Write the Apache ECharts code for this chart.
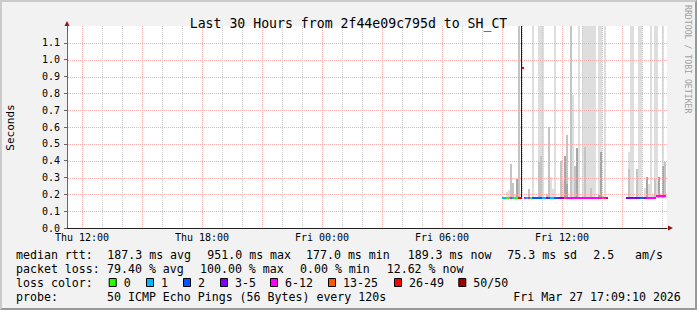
<!DOCTYPE html>
<html>
<head>
<meta charset="utf-8">
<script src="https://cdn.jsdelivr.net/npm/echarts@6/dist/echarts.min.js"></script>
<style>
html,body{margin:0;padding:0;background:#f2f2f2;overflow:hidden;}
#chart{position:absolute;left:0;top:0;width:697px;height:310px;}
#frame{position:absolute;left:0;top:0;width:697px;height:310px;box-sizing:border-box;
  border-top:2px solid #cbcbcb;border-left:2px solid #cbcbcb;border-right:2px solid #999;border-bottom:2px solid #999;pointer-events:none;}
</style>
</head>
<body>
<div id="chart"></div>
<div id="frame"></div>
<script>
// ---------------- DATA ----------------
// time in hours since Thu 00:00
const timeWindow = [11.25, 41.25];
const yRange = [0, 1.2];
const yTicks = [0.0, 0.1, 0.2, 0.3, 0.4, 0.5, 0.6, 0.7, 0.8, 0.9, 1.0, 1.1];
const xLabelHours = [12, 18, 24, 30, 36];
const xLabelTexts = ['Thu 12:00', 'Thu 18:00', 'Fri 00:00', 'Fri 06:00', 'Fri 12:00'];
const minorGridHours = [13,14,16,17,19,20,22,23,25,26,28,29,31,32,34,35,37,38,40,41];
const majorGridHours = [12,15,18,21,24,27,30,33,36,39];
const slotHours = 0.1;
const minRtt = 0.177;

const titleText = 'Last 30 Hours from 2f44e09c795d to SH_CT';
const yAxisTitle = 'Seconds';
const sideText = 'RRDTOOL / TOBI OETIKER';

// median rtt per slot (slot start hour, seconds, loss bucket index)
const medianHours = [33.0,33.1,33.2,33.3,33.4,33.5,33.6,33.7,33.8,33.9,34.0,34.1,34.2,34.3,34.4,34.5,34.6,34.7,34.8,34.9,
  35.0,35.1,35.2,35.3,35.4,35.5,35.6,35.7,35.8,35.9,36.0,36.1,36.2,36.3,36.4,36.5,36.6,36.7,36.8,36.9,
  37.0,37.1,37.2,37.3,37.4,37.5,37.6,37.7,37.8,37.9,38.0,38.1,38.2,
  39.2,39.3,39.4,39.5,39.6,39.7,39.8,39.9,40.0,40.1,40.2,40.3,40.4,40.5,40.6,40.7,40.8,40.9,41.0,41.1];
const medianValues = [0.178,0.178,0.178,0.178,0.178,0.178,0.178,0.178,0.178,0.178,0.951,0.178,0.178,0.178,0.177,0.177,0.177,0.177,0.177,0.177,
  0.177,0.177,0.178,0.177,0.177,0.177,0.178,0.178,0.179,0.179,0.179,0.179,0.179,0.179,0.179,0.179,0.179,0.179,0.179,0.179,
  0.179,0.179,0.179,0.179,0.179,0.179,0.179,0.179,0.179,0.179,0.179,0.179,0.179,
  0.178,0.178,0.178,0.178,0.178,0.178,0.178,0.178,0.178,0.178,0.178,0.178,0.178,0.178,0.178,0.188,0.188,0.188,0.188,0.188];
const medianLoss = [1,1,0,0,4,1,0,0,6,6,6,4,1,4,0,2,2,2,2,2,
  1,1,3,2,1,1,2,2,3,3,3,5,4,4,4,4,4,4,4,4,
  4,4,4,4,4,4,4,4,4,4,5,4,6,
  3,3,3,3,3,3,3,2,2,3,4,4,4,4,4,4,4,4,4,4];

// smoke bands: [slot start hour, top in seconds]
const smokeLight = [[33.2,0.216],[33.3,0.226],[33.6,0.20],[34.5,1.2],[34.8,1.2],[34.9,1.2],[35.0,1.2],
  [35.3,0.20],[35.4,0.305],[35.5,0.23],[35.6,1.2],[36.0,0.28],[36.5,0.79],[36.8,1.2],[37.0,1.2],[37.1,1.2],
  [37.2,1.2],[37.3,1.2],[37.4,1.2],[37.5,1.2],[37.6,1.2],[37.8,1.2],[37.9,1.2],[38.1,1.2],
  [39.3,0.454],[39.4,1.2],[39.5,1.2],[39.8,1.2],[39.9,1.2],[40.1,0.24],[40.3,0.26],[40.4,1.2],[40.5,0.20],
  [40.6,1.2],[40.7,1.2],[41.0,1.2]];
const smokeMid = [[33.4,0.38],[33.5,0.266],[33.8,1.2],[34.3,0.232],[34.8,0.395],[34.9,0.43],[35.2,0.20],[35.3,0.60],
  [35.9,0.40],[36.2,0.553],[36.4,1.2],[36.6,0.37],[36.7,0.37],[37.1,0.48],[37.4,0.24],[38.0,0.19],
  [39.3,0.35],[39.7,0.35],[40.6,0.29],[41.1,0.395]];
const smokeDark = [[33.7,0.29],[36.1,0.43],[36.2,0.26],[36.7,0.474],[37.8,0.195],[37.9,0.45],
  [40.2,0.305],[40.8,0.305],[41.0,0.37]];
const spikeColumn = [[33.98,1.2]];

// legend / statistics text
const statLabels = ['median rtt:', 'packet loss:', 'loss color:', 'probe:'];
const rttStats = ['187.3 ms avg', '951.0 ms max', '177.0 ms min', '189.3 ms now', '75.3 ms sd', '2.5', 'am/s'];
const lossStats = ['79.40 % avg', '100.00 % max', '0.00 % min', '12.62 % now'];
const lossBuckets = ['0', '1', '2', '3-5', '6-12', '13-25', '26-49', '50/50'];
const probeText = '50 ICMP Echo Pings (56 Bytes) every 120s';
const dateText = 'Fri Mar 27 17:09:10 2026';

// ---------------- STYLE / LAYOUT ----------------
const FONT = 'DejaVu Sans Mono';
const lossColors = ['#26ff00','#00b8ff','#0059ff','#7e00ff','#ff00ff','#ff5500','#ff0000','#a10000'];
const smokeShades = ['#dedede','#c4c4c4','#a6a6a6'];
const SPIKE_COLOR = '#1a1a1a';
const ARROW = '#8f1515';
const MINOR_COLOR = '#c8c8c8';
const MAJOR_COLOR = '#f6aaaa';
const rowY = [254.5, 268.5, 282.5, 296.5];
const labelX = 16;
const rttX = [107.3, 207.3, 306, 407.7, 507.3, 593.3, 635];
const lossX = [107, 200, 300, 386.7];
const boxX = [108.7, 146, 183, 220, 270, 328, 394, 458.3];
const probeX = 107, dateX = 513.3;

const smokeData = [];
[smokeLight, smokeMid, smokeDark].forEach((arr, lvl) => {
  arr.forEach(d => smokeData.push([d[0], d[1], lvl]));
});
const medianData = medianHours.map((h, i) => [h, medianValues[i], medianLoss[i]]);
const minorData = minorGridHours.map(h => [h, yRange[0]]);
const majorData = majorGridHours.map(h => [h, yRange[0]]);
const hGridData = yTicks.filter(v => v > 0).map(v => [timeWindow[0], v]);

const chart = echarts.init(document.getElementById('chart'), null, {renderer: 'svg', width: 697, height: 310});

function smokeItem(params, api) {
  const t = api.value(0), top = api.value(1), lvl = api.value(2);
  const p0 = api.coord([t, minRtt]);
  const p1 = api.coord([t + slotHours, top]);
  const x = Math.round(p0[0]);
  const w = Math.round(p1[0]) - x;
  const y = Math.round(p1[1]);
  const h = Math.round(p0[1]) - y;
  return {type: 'rect', shape: {x: x, y: y, width: w, height: h}, style: {fill: smokeShades[lvl]}};
}
function spikeItem(params, api) {
  const t = api.value(0), top = api.value(1);
  const p0 = api.coord([t, minRtt]);
  const p1 = api.coord([t, top]);
  const x = Math.floor(p0[0]);
  return {type: 'rect', shape: {x: x, y: Math.round(p1[1]), width: 1, height: Math.round(p0[1]) - Math.round(p1[1])},
    style: {fill: SPIKE_COLOR}};
}
function medianItem(params, api) {
  const t = api.value(0), v = api.value(1), loss = api.value(2);
  const a = api.coord([t, v]), b = api.coord([t + slotHours, v]);
  const x = Math.round(a[0]);
  return {type: 'rect', shape: {x: x, y: Math.round(a[1]) - 1, width: Math.round(b[0]) - x, height: 2},
    style: {fill: lossColors[loss]}};
}
// dotted grid lines as rows of 1px dots (1 on, 1 off)
function dots(x0, y0, x1, y1, color) {
  const children = [];
  if (x0 === x1) {
    for (let y = Math.min(y0, y1); y < Math.max(y0, y1); y += 2) {
      children.push({type: 'rect', shape: {x: x0, y: y, width: 1, height: 1}, style: {fill: color}});
    }
  } else {
    for (let x = Math.min(x0, x1); x < Math.max(x0, x1); x += 2) {
      children.push({type: 'rect', shape: {x: x, y: y0, width: 1, height: 1}, style: {fill: color}});
    }
  }
  return {type: 'group', children: children};
}
function vGrid(color) {
  return function (params, api) {
    const h = api.value(0);
    const a = api.coord([h, yRange[0]]), b = api.coord([h, yRange[1]]);
    const x = Math.round(a[0]);
    return dots(x, Math.round(b[1]), x, Math.round(a[1]), color);
  };
}
function hGrid(params, api) {
  const v = api.value(1);
  const a = api.coord([timeWindow[0], v]), b = api.coord([timeWindow[1], v]);
  const y = Math.round(a[1]);
  return dots(Math.round(a[0]) + 1, y, Math.round(b[0]), y, MAJOR_COLOR);
}

const texts = [];
function addText(str, x, y, size, color) {
  texts.push({type: 'text', x: x, y: y, silent: true,
    style: {text: str, fontFamily: FONT, fontSize: size || 11.6, fill: color || '#000', verticalAlign: 'middle', align: 'left'}});
}
statLabels.forEach((s, i) => addText(s, labelX, rowY[i]));
rttStats.forEach((s, i) => addText(s, rttX[i], rowY[0]));
lossStats.forEach((s, i) => addText(s, lossX[i], rowY[1]));
lossBuckets.forEach((s, i) => {
  texts.push({type: 'rect', silent: true, shape: {x: boxX[i] + 0.5, y: rowY[2] - 4, width: 7, height: 8},
    style: {fill: lossColors[i], stroke: '#000', lineWidth: 1}});
  addText(s, boxX[i] + 15, rowY[2]);
});
addText(probeText, probeX, rowY[3]);
addText(dateText, dateX, rowY[3]);
texts.push({type: 'text', x: 688, y: 5, rotation: -Math.PI / 2, silent: true,
  style: {text: sideText, fontFamily: FONT, fontSize: 8.2, fill: '#a0a0a0', verticalAlign: 'middle', align: 'left'}});
texts.push({type: 'text', x: 10, y: 127.5, rotation: Math.PI / 2, silent: true,
  style: {text: yAxisTitle, fontFamily: FONT, fontSize: 11, fill: '#000', verticalAlign: 'middle', align: 'center'}});

chart.setOption({
  animation: false,
  backgroundColor: 'transparent',
  title: {text: titleText, left: 'center', top: 12,
    textStyle: {fontFamily: FONT, fontSize: 13.2, fontWeight: 'normal', color: '#000'}},
  grid: {left: 67, right: 30, top: 26, bottom: 82, show: true, backgroundColor: '#fff', borderWidth: 0},
  xAxis: {
    type: 'value', min: timeWindow[0], max: timeWindow[1],
    axisLine: {show: true, lineStyle: {color: '#222', width: 1}},
    axisTick: {show: false},
    splitLine: {show: false},
    axisLabel: {customValues: xLabelHours, margin: 4, fontFamily: FONT, fontSize: 10, color: '#000',
      formatter: v => xLabelTexts[xLabelHours.indexOf(v)] || ''}
  },
  yAxis: {
    type: 'value', min: yRange[0], max: yRange[1], interval: 0.1,
    axisLine: {show: true, lineStyle: {color: '#666', width: 1}},
    axisTick: {show: true, length: 3, lineStyle: {color: '#666'}, customValues: yTicks},
    splitLine: {show: false},
    axisLabel: {customValues: yTicks, margin: 7, fontFamily: FONT, fontSize: 10, color: '#000',
      formatter: v => v.toFixed(1)}
  },
  series: [
    {type: 'custom', name: 'smoke', data: smokeData, renderItem: smokeItem, z: 2, silent: true, encode: {x: 0, y: 1}},
    {type: 'custom', name: 'minorGrid', data: minorData, renderItem: vGrid(MINOR_COLOR), z: 4, silent: true, encode: {x: 0, y: 1}},
    {type: 'custom', name: 'majorGrid', data: majorData, renderItem: vGrid(MAJOR_COLOR), z: 4, silent: true, encode: {x: 0, y: 1}},
    {type: 'custom', name: 'hGrid', data: hGridData, renderItem: hGrid, z: 4, silent: true, encode: {x: 0, y: 1}},
    {type: 'custom', name: 'spike', data: spikeColumn, renderItem: spikeItem, z: 5, silent: true, encode: {x: 0, y: 1}},
    {type: 'custom', name: 'median', data: medianData, renderItem: medianItem, z: 6, silent: true, encode: {x: 0, y: 1}}
  ],
  graphic: texts
});

const o = chart.convertToPixel({gridIndex: 0}, [timeWindow[0], yRange[0]]);
const e = chart.convertToPixel({gridIndex: 0}, [timeWindow[1], yRange[1]]);
chart.setOption({
  graphic: texts.concat([
    {type: 'polygon', silent: true, shape: {points: [[o[0] - 2.5, e[1]], [o[0] + 2.5, e[1]], [o[0], e[1] - 5]]}, style: {fill: ARROW}},
    {type: 'polygon', silent: true, shape: {points: [[e[0] + 1, o[1] - 2.5], [e[0] + 1, o[1] + 2.5], [e[0] + 6, o[1]]]}, style: {fill: ARROW}}
  ])
});
</script>
</body>
</html>
